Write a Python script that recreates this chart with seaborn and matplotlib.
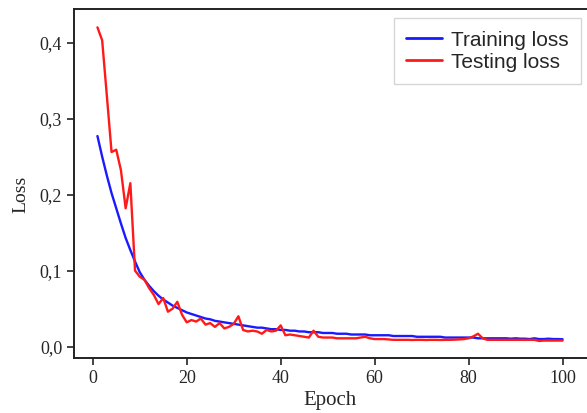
import matplotlib
matplotlib.use("Agg")
import matplotlib.pyplot as plt
from matplotlib.ticker import FuncFormatter
import numpy as np
import pandas as pd
import seaborn as sns

# values
epochs = list(range(1, 101))

train_loss = [
    0.277, 0.250, 0.225, 0.202, 0.182, 0.162, 0.143, 0.127, 0.112, 0.098,
    0.088, 0.080, 0.073, 0.067, 0.062, 0.058, 0.054, 0.051, 0.048, 0.045,
    0.043, 0.041, 0.039, 0.037, 0.036, 0.034, 0.033, 0.032, 0.031, 0.030,
    0.029, 0.028, 0.027, 0.026, 0.025, 0.025, 0.024, 0.023, 0.023, 0.022,
    0.022, 0.021, 0.021, 0.020, 0.020, 0.019, 0.019, 0.019, 0.018, 0.018,
    0.018, 0.017, 0.017, 0.017, 0.016, 0.016, 0.016, 0.016, 0.015, 0.015,
    0.015, 0.015, 0.015, 0.014, 0.014, 0.014, 0.014, 0.014, 0.013, 0.013,
    0.013, 0.013, 0.013, 0.013, 0.012, 0.012, 0.012, 0.012, 0.012, 0.012,
    0.012, 0.011, 0.011, 0.011, 0.011, 0.011, 0.011, 0.011, 0.0105, 0.011,
    0.0105, 0.0105, 0.010, 0.011, 0.010, 0.010, 0.0105, 0.010, 0.010, 0.0098,
]

test_loss = [
    0.420, 0.403, 0.330, 0.256, 0.259, 0.232, 0.182, 0.215, 0.100, 0.092,
    0.088, 0.077, 0.068, 0.056, 0.064, 0.046, 0.050, 0.059, 0.042, 0.032,
    0.035, 0.033, 0.037, 0.029, 0.031, 0.026, 0.031, 0.024, 0.026, 0.030,
    0.040, 0.022, 0.020, 0.021, 0.020, 0.017, 0.022, 0.020, 0.021, 0.028,
    0.015, 0.016, 0.015, 0.014, 0.013, 0.012, 0.021, 0.013, 0.012, 0.012,
    0.012, 0.011, 0.011, 0.011, 0.011, 0.011, 0.012, 0.013, 0.011, 0.010,
    0.010, 0.010, 0.0095, 0.009, 0.009, 0.009, 0.009, 0.0088, 0.009, 0.009,
    0.0088, 0.009, 0.009, 0.0088, 0.009, 0.009, 0.0092, 0.0095, 0.010, 0.011,
    0.0135, 0.017, 0.011, 0.009, 0.009, 0.009, 0.009, 0.009, 0.009, 0.009,
    0.009, 0.009, 0.009, 0.009, 0.0075, 0.008, 0.008, 0.008, 0.008, 0.008,
]

sns.set_style("ticks")
plt.rcParams["font.family"] = ["Liberation Serif", "DejaVu Serif"]

df = pd.DataFrame({
    "Epoch": epochs * 2,
    "Loss": train_loss + test_loss,
    "kind": ["Training loss"] * 100 + ["Testing loss"] * 100,
})

fig = plt.figure(figsize=(5.87, 4.13), dpi=100)
ax = fig.add_axes([0.126, 0.133, 0.874, 0.845])

sns.lineplot(data=df, x="Epoch", y="Loss", hue="kind",
             palette={"Training loss": "#1a1aff", "Testing loss": "#ff1a1a"},
             linewidth=1.7, ax=ax)

ax.set_xlim(-4, 105.2)
ax.set_ylim(-0.015, 0.444)
ax.set_xticks([0, 20, 40, 60, 80, 100])
ax.set_yticks([0.0, 0.1, 0.2, 0.3, 0.4])
ax.yaxis.set_major_formatter(FuncFormatter(lambda v, p: f"{v:.1f}".replace(".", ",")))
ax.tick_params(labelsize=13, length=5, width=1.2, color="#222222")
ax.set_xlabel("Epoch", fontsize=15, labelpad=3)
ax.set_ylabel("Loss", fontsize=14)
ax.yaxis.set_label_coords(-0.086, 0.47)
ax.spines["right"].set_visible(False)
for s in ["left", "bottom", "top"]:
    ax.spines[s].set_linewidth(1.4)
    ax.spines[s].set_color("#222222")

leg = ax.legend(loc="upper right", bbox_to_anchor=(581 / 587, 1 - 18 / 413),
                bbox_transform=fig.transFigure, frameon=True, fancybox=False,
                prop={"family": "Liberation Sans", "size": 15},
                handlelength=1.7, handletextpad=0.45, borderpad=0.6,
                labelspacing=0.15, borderaxespad=0)
leg.get_frame().set_edgecolor("#cccccc")
leg.get_frame().set_linewidth(1.0)
for h in leg.get_lines():
    h.set_linewidth(2)

fig.savefig("out.png", dpi=100)
